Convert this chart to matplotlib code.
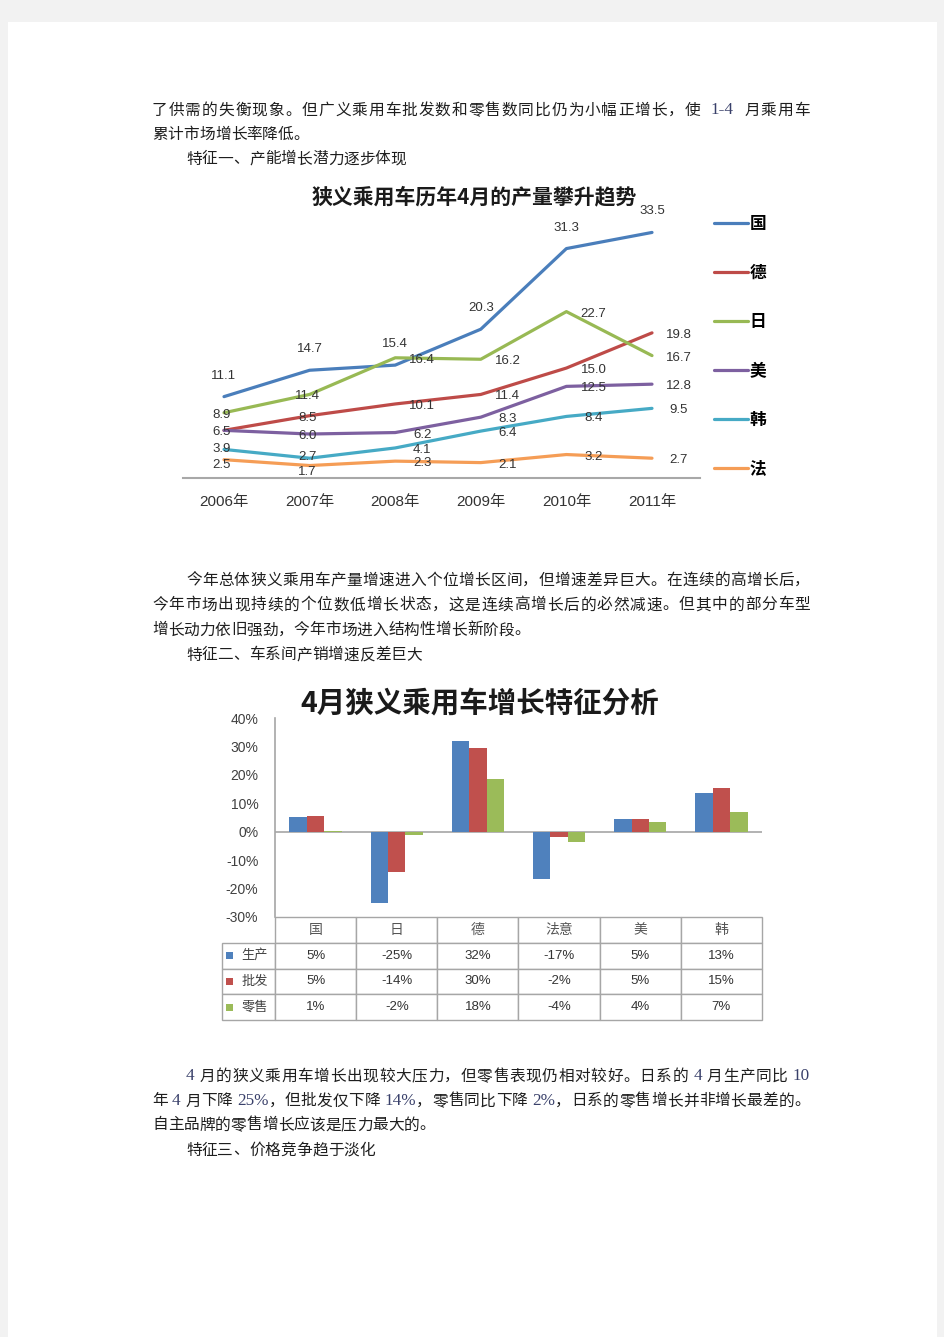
import matplotlib
matplotlib.use('Agg')
import matplotlib.pyplot as plt
import numpy as np
from matplotlib.patches import Rectangle

plt.rcParams['font.family'] = ['Liberation Sans', 'Noto Sans CJK SC', 'DejaVu Sans']

W, H = 945, 1337

# ---- chart 1: April output by make, 2006-2011
years = ['2006年', '2007年', '2008年', '2009年', '2010年', '2011年']
series_names = ['国', '德', '日', '美', '韩', '法']
guo = [11.1, 14.7, 15.4, 20.3, 31.3, 33.5]
de = [6.5, 8.5, 10.1, 11.4, 15.0, 19.8]
ri = [8.9, 11.4, 16.4, 16.2, 22.7, 16.7]
mei = [6.5, 6.0, 6.2, 8.3, 12.5, 12.8]
han = [3.9, 2.7, 4.1, 6.4, 8.4, 9.5]
fa = [2.5, 1.7, 2.3, 2.1, 3.2, 2.7]
line_colors = ['#4a7ebb', '#be4b48', '#98b954', '#7d60a0', '#46aac5', '#f59d56']

# ---- chart 2: April growth by make
groups = ['国', '日', '德', '法意', '美', '韩']
bar_names = ['生产', '批发', '零售']
production = [5.2, -25.0, 32.0, -16.5, 4.5, 13.5]
wholesale = [5.7, -14.3, 29.5, -1.8, 4.5, 15.5]
retail = [0.4, -1.3, 18.5, -3.5, 3.5, 7.0]
production_txt = ['5%', '-25%', '32%', '-17%', '5%', '13%']
wholesale_txt = ['5%', '-14%', '30%', '-2%', '5%', '15%']
retail_txt = ['1%', '-2%', '18%', '-4%', '4%', '7%']
bar_colors = ['#4f81bd', '#c0504d', '#9bbb59']

# ---- page text: (text, x, y, justify)
page_lines = [
    ('了供需的失衡现象。但广义乘用车批发数和零售数同比仍为小幅正增长，使  1-4  月乘用车', 152, 110, True),
    ('累计市场增长率降低。', 152, 134, False),
    ('特征一、产能增长潜力逐步体现', 186, 159, False),
    ('今年总体狭义乘用车产量增速进入个位增长区间，但增速差异巨大。在连续的高增长后，', 186, 580, True),
    ('今年市场出现持续的个位数低增长状态，这是连续高增长后的必然减速。但其中的部分车型', 152, 605, True),
    ('增长动力依旧强劲，今年市场进入结构性增长新阶段。', 152, 630, False),
    ('特征二、车系间产销增速反差巨大', 186, 655, False),
    ('4 月的狭义乘用车增长出现较大压力，但零售表现仍相对较好。日系的 4 月生产同比 10', 186, 1076, True),
    ('年 4 月下降 25%，但批发仅下降 14%，零售同比下降 2%，日系的零售增长并非增长最差的。', 152, 1101, True),
    ('自主品牌的零售增长应该是压力最大的。', 152, 1125, False),
    ('特征三、价格竞争趋于淡化', 186, 1150, False),
]
right_margin = 810


def fy(y):
    return 1 - y / H


def axes_px(left, top, right, bottom):
    return fig.add_axes([left / W, 1 - bottom / H, (right - left) / W, (bottom - top) / H])


fig = plt.figure(figsize=(W / 100, H / 100), dpi=100, facecolor='#f2f2f2')
fig.add_artist(Rectangle((8 / W, 0), 929 / W, fy(22), transform=fig.transFigure,
                         facecolor='white', edgecolor='none', zorder=-10))
renderer = fig.canvas.get_renderer()


def draw_line(text, x, y, justify, size=11.3):
    tokens = []
    buf = ''
    for ch in text:
        if ch == ' ':
            if buf:
                tokens.append(buf)
                buf = ''
            tokens.append(None)
        elif ord(ch) < 128:
            buf += ch
        else:
            if buf:
                tokens.append(buf)
                buf = ''
            tokens.append(ch)
    if buf:
        tokens.append(buf)
    arts, widths = [], []
    for t in tokens:
        if t is None:
            arts.append(None)
            widths.append(4.0)
            continue
        latin = ord(t[0]) < 128
        a = fig.text(0, fy(y), t, fontsize=size + (1 if latin else 0), va='center', ha='left',
                     family=['Liberation Serif'] if latin else ['Noto Sans CJK SC'],
                     color='#39406a' if latin else '#1e1e1e')
        arts.append(a)
        widths.append(a.get_window_extent(renderer).width)
    gap = 0.0
    if justify and len(tokens) > 1:
        gap = (right_margin - x - sum(widths)) / (len(tokens) - 1)
    cur = x
    for a, w in zip(arts, widths):
        if a is not None:
            a.set_x(cur / W)
        cur += w + gap


for text, x, y, just in page_lines:
    draw_line(text, x, y, just)

# ================= chart 1 =================
fig.text(474 / W, fy(197), '狭义乘用车历年4月的产量攀升趋势', ha='center', va='center',
         fontsize=15, fontweight='bold', family=['Noto Sans CJK SC'], color='#1a1a1a')

ax1 = axes_px(183, 210, 700, 478)
step = 85.6
ax1.set_xlim(-(224 - 183) / step, 5 + (700 - 652) / step)
ax1.set_ylim(0, (478 - 210) / 7.33)
x = np.arange(len(years))
all_series = [guo, de, ri, mei, han, fa]
for name, vals, c in zip(series_names, all_series, line_colors):
    ax1.plot(x, vals, color=c, lw=2.3, label=name, solid_capstyle='round')

# small vertical nudges for labels that sit on top of each other
nudge = {(4, 0): 2, (5, 0): -3, (4, 1): 3, (5, 1): -4}
done = set()
for k, vals in enumerate(all_series):
    for i, v in enumerate(vals):
        if (i, v) in done:
            continue
        done.add((i, v))
        if k == 0:
            off = (0, 21)
        else:
            off = (-2 if i < 2 else 27, -2 + nudge.get((k, i), 0))
        ax1.annotate(f'{v:.1f}', (i, v), xytext=off, textcoords='offset pixels',
                     ha='center', va='center', fontsize=9.5, color='#333333')

for s in ['top', 'right', 'left']:
    ax1.spines[s].set_visible(False)
ax1.spines['bottom'].set_color('#a8a8a8')
ax1.spines['bottom'].set_linewidth(1.5)
ax1.set_yticks([])
ax1.set_xticks(x)
ax1.set_xticklabels(years, fontsize=11, color='#333333')
ax1.tick_params(axis='x', length=0, pad=12)
ax1.set_facecolor('none')
ax1.legend(loc='upper left', bbox_to_anchor=(706 / W, fy(207)), bbox_transform=fig.transFigure,
           frameon=False, borderpad=0, labelspacing=1.85, handlelength=2.0, handletextpad=0.1,
           prop={'family': ['Noto Sans CJK SC'], 'size': 12, 'weight': 'bold'})

# ================= chart 2 =================
fig.text(480 / W, fy(703), '4月狭义乘用车增长特征分析', ha='center', va='center',
         fontsize=20.5, fontweight='bold', family=['Noto Sans CJK SC'], color='#1a1a1a')

ax2 = axes_px(275, 718, 762, 917)
gx = np.arange(len(groups))
bw = 0.215
for j, (vals, c) in enumerate(zip([production, wholesale, retail], bar_colors)):
    ax2.bar(gx + (j - 1) * bw, vals, width=bw, color=c, zorder=2)
ax2.set_xlim(-0.5, 5.5)
ax2.set_ylim(-30, 40)
ax2.axhline(0, color='#a6a6a6', lw=1.2, zorder=1)
ax2.set_yticks(range(-30, 41, 10))
ax2.set_yticklabels([f'{v}%' for v in range(-30, 41, 10)], fontsize=10, color='#404040')
ax2.tick_params(axis='y', length=0, pad=12)
ax2.set_xticks([])
for s in ['top', 'right', 'bottom']:
    ax2.spines[s].set_visible(False)
ax2.spines['left'].set_color('#a6a6a6')
ax2.spines['left'].set_linewidth(1.2)

cell_text = [[''] + groups,
             [''] + production_txt,
             [''] + wholesale_txt,
             [''] + retail_txt]
ax_w = 762 - 275
ax_h = 917 - 718
first_w = 275 - 222
col_w = ax_w / 6
tab = ax2.table(cellText=cell_text, cellLoc='center',
                colWidths=[first_w] + [col_w] * 6,
                bbox=[(222 - 275) / ax_w, -(1020 - 917) / ax_h, (762 - 222) / ax_w, (1020 - 917) / ax_h])
tab.auto_set_font_size(False)
tab.set_fontsize(9.5)
for (r, c), cell in tab.get_celld().items():
    cell.set_edgecolor('#a6a6a6')
    cell.set_linewidth(1.0)
    cell.get_text().set_color('#555555' if r == 0 else '#333333')
    cell.get_text().set_family(['Liberation Sans', 'Noto Sans CJK SC'])
    if r == 0:
        cell.get_text().set_fontsize(10)
    if r == 0 and c == 0:
        cell.visible_edges = 'open'

row_y = [955.5, 981, 1007]
for name, c, yc in zip(bar_names, bar_colors, row_y):
    fig.add_artist(Rectangle((226 / W, fy(yc + 3.5)), 7 / W, 7 / H, transform=fig.transFigure,
                             facecolor=c, edgecolor='none'))
    fig.text(255 / W, fy(yc), name, ha='center', va='center', fontsize=9.5,
             family=['Noto Sans CJK SC'], color='#444444')

fig.savefig('out.png', dpi=100, facecolor=fig.get_facecolor())
